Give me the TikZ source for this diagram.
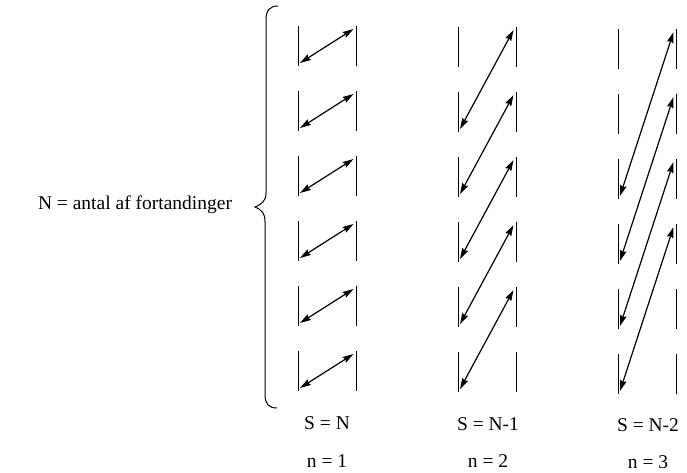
\documentclass[tikz,border=0pt]{standalone}
\usepackage{fontspec}
\setmainfont{Liberation Serif}
\usetikzlibrary{arrows.meta}
\begin{document}
\begin{tikzpicture}[x=1pt,y=-1pt,
  wall/.style={line width=0.9pt},
  dblarrow/.style={line width=1.2pt,{Stealth[length=11pt,width=6.5pt,inset=1.5pt]}-{Stealth[length=11pt,width=6.5pt,inset=1.5pt]}},
  bracepath/.style={line width=1pt},
  lab/.style={font=\fontsize{19.5}{22}\selectfont, anchor=base, inner sep=0pt}]
\useasboundingbox (0,0) rectangle (687,472);
% coordinates of the walls
\foreach \c/\xl/\xr/\yo in {1/298/356/26, 2/458/516/27, 3/618/676/29} {
  \foreach \k in {0,...,5} {
    \pgfmathsetmacro\yt{\yo+65*\k}
    \pgfmathsetmacro\yb{\yt+40}
    \coordinate (L-\c-\k-t) at (\xl,\yt);
    \coordinate (L-\c-\k-b) at (\xl,\yb);
    \coordinate (R-\c-\k-t) at (\xr,\yt);
    \coordinate (R-\c-\k-b) at (\xr,\yb);
    \coordinate (A-\c-\k) at (\xl+2,\yb-3);
    \coordinate (B-\c-\k) at (\xr-2.5,\yt+3);
    \draw[wall] (L-\c-\k-t) -- (L-\c-\k-b);
    \draw[wall] (R-\c-\k-t) -- (R-\c-\k-b);
  }
}
% n = 1
\foreach \k in {0,...,5} \draw[dblarrow] (A-1-\k) -- (B-1-\k);
% n = 2
\foreach \k in {0,...,4} {
  \pgfmathtruncatemacro\kk{\k+1}
  \draw[dblarrow] (B-2-\k) -- (A-2-\kk);
}
% n = 3
\foreach \k in {0,...,3} {
  \pgfmathtruncatemacro\kk{\k+2}
  \draw[dblarrow] (B-3-\k) -- (A-3-\kk);
}
% brace
\draw[bracepath] (278,6) .. controls (270,6) and (266,10) .. (266,20)
  -- (266,193) .. controls (266,201) and (262,204) .. (255,207)
  .. controls (262,210) and (265,213) .. (265,222)
  -- (265,395) .. controls (265,404) and (269,408) .. (277,408);
% labels
\node[lab] (Nlabel) at (135,209) {N = antal af fortandinger};
\node[lab] (S1) at (327,429) {S = N};
\node[lab] (S2) at (488,430) {S = N-1};
\node[lab] (S3) at (648,431) {S = N-2};
\node[lab] (n1) at (327,467) {n = 1};
\node[lab] (n2) at (488,467) {n = 2};
\node[lab] (n3) at (648,468) {n = 3};
\end{tikzpicture}
\end{document}
